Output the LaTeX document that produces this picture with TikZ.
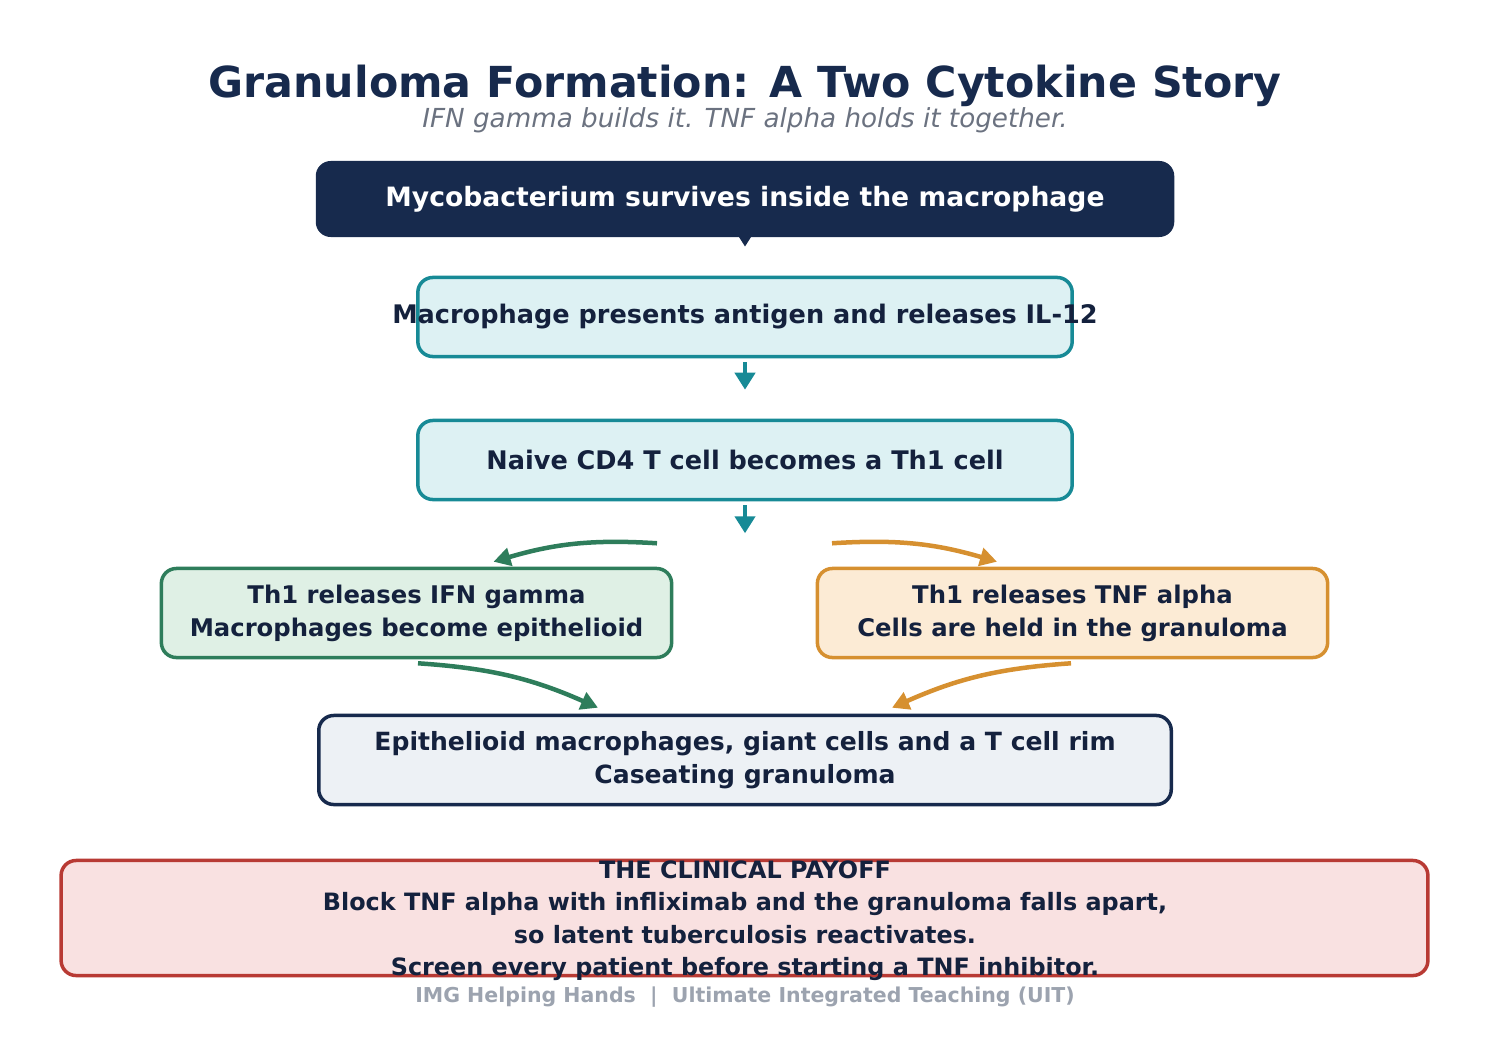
\documentclass[tikz,border=0pt]{standalone}
\usepackage{fontspec}
\setmainfont{DejaVu Sans}
\usetikzlibrary{shapes,arrows.meta,positioning,calc}
\definecolor{navy}{HTML}{172A4D}
\definecolor{ink}{HTML}{14213D}
\definecolor{subgray}{HTML}{6B7280}
\definecolor{footgray}{HTML}{9CA3AF}
\definecolor{tealline}{HTML}{178A96}
\definecolor{tealfill}{HTML}{DDF1F3}
\definecolor{greenline}{HTML}{2E7D5B}
\definecolor{greenfill}{HTML}{DFF0E5}
\definecolor{orangeline}{HTML}{D69030}
\definecolor{orangefill}{HTML}{FCEBD5}
\definecolor{granfill}{HTML}{EDF1F5}
\definecolor{redline}{HTML}{B83A34}
\definecolor{redfill}{HTML}{F9E1E1}

\begin{document}
\begin{tikzpicture}[x=0.01cm, y=-0.01cm]
    % Define styles
    \tikzstyle{stepbox} = [rectangle, rounded corners=0.15cm, line width=0.035cm, minimum width=6.54cm, minimum height=0.79cm, align=center, text=ink, font=\fontsize{7.27}{9.4}\selectfont\bfseries]
    \tikzstyle{tealbox} = [stepbox, draw=tealline, fill=tealfill]
    \tikzstyle{sidebox} = [stepbox, minimum width=5.1cm, minimum height=0.89cm, font=\fontsize{6.91}{9.39}\selectfont\bfseries]
    \tikzstyle{bodytext} = [align=center, text=ink, font=\fontsize{6.79}{9.25}\selectfont\bfseries]
    \tikzstyle{arrow} = [line width=0.045cm, -{Triangle[length=0.17cm,width=0.2cm]}]
    \tikzstyle{curvearrow} = [line width=0.045cm, -{Triangle[length=0.17cm,width=0.18cm]}]

    \useasboundingbox (0,0) rectangle (1489,1049);

    % Title
    \node [anchor=base, text=navy, font=\fontsize{12.15}{14}\selectfont\bfseries] (title) at (745,97.5) {Granuloma Formation: A Two Cytokine Story};
    \node [anchor=base, text=subgray, font=\fontsize{7.45}{9}\selectfont\itshape] (subtitle) at (745,127.5) {IFN gamma builds it. TNF alpha holds it together.};

    % Nodes
    \node [stepbox, fill=navy, text=white, minimum width=8.58cm, minimum height=0.76cm, font=\fontsize{7.57}{9.4}\selectfont\bfseries] (myco) at (745,199) {Mycobacterium survives inside the macrophage};
    \node [tealbox] (mac) at (745,317) {\makebox[0pt]{Macrophage presents antigen and releases IL-12}};
    \node [tealbox] (naive) at (745,460) {Naive CD4 T cell becomes a Th1 cell};
    \node [sidebox, draw=greenline, fill=greenfill] (ifn) at (416.5,613) {Th1 releases IFN gamma\\Macrophages become epithelioid};
    \node [sidebox, draw=orangeline, fill=orangefill] (tnf) at (1072.5,613) {Th1 releases TNF alpha\\Cells are held in the granuloma};
    \node [stepbox, draw=navy, fill=granfill, minimum width=8.52cm, minimum height=0.89cm, font=\fontsize{7.13}{9.39}\selectfont\bfseries] (gran) at (745,760) {Epithelioid macrophages, giant cells and a T cell rim\\Caseating granuloma};
    \node [stepbox, draw=redline, fill=redfill, minimum width=13.66cm, minimum height=1.15cm] (payoff) at (744.5,918) {};
    \node [bodytext] (payofftext) at (745,920.5) {THE CLINICAL PAYOFF\\Block TNF alpha with infliximab and the granuloma falls apart,\\so latent tuberculosis reactivates.\\Screen every patient before starting a TNF inhibitor.};
    \node [anchor=base, text=footgray, font=\fontsize{5.83}{7}\selectfont\bfseries] (footer) at (745,1002) {IMG Helping Hands\ \ |\ \ Ultimate Integrated Teaching (UIT)};

    % Arrows
    \draw [arrow, navy, shorten >=0.29cm] (myco) -- (mac);
    \draw [arrow, tealline, shorten <=0.04cm, shorten >=0.29cm] (mac) -- (naive);
    \draw [arrow, tealline, shorten <=0.04cm] (naive.south) -- ++(0,32);
    \draw [curvearrow, greenline] ($(naive.south)+(-88,42)$) to[bend right=10] ($(ifn.north)+(77,-5)$);
    \draw [curvearrow, orangeline] ($(naive.south)+(87,42)$) to[bend left=10] ($(tnf.north)+(-75.5,-5)$);
    \draw [curvearrow, greenline] ($(ifn.south)+(1.5,4)$) to[bend left=10] ($(gran.north)+(-147,-6)$);
    \draw [curvearrow, orangeline] ($(tnf.south)+(-1.5,4)$) to[bend right=10] ($(gran.north)+(147,-6)$);
\end{tikzpicture}
\end{document}
